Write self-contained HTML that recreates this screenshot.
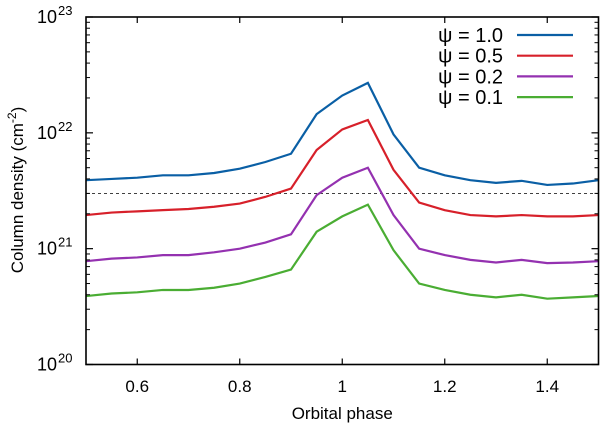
<!DOCTYPE html>
<html><head><meta charset="utf-8"><style>
body{margin:0;background:#fff;}
svg{display:block;font-family:"Liberation Sans",Arial,sans-serif;}
</style></head><body>
<svg id="chart" width="600" height="429" viewBox="0 0 600 429" xmlns="http://www.w3.org/2000/svg"></svg>
<script>
const phases=[0.5,0.55,0.6,0.65,0.7,0.75,0.8,0.85,0.9,0.95,1.0,1.05,1.1,1.15,1.2,1.25,1.3,1.35,1.4,1.45,1.5];
const psi10=[3.9,4.0,4.1,4.3,4.3,4.5,4.9,5.6,6.6,14.5,21,27,9.7,5.0,4.3,3.9,3.7,3.85,3.55,3.65,3.9];
const psi05=[1.95,2.05,2.1,2.15,2.2,2.3,2.45,2.8,3.3,7.1,10.7,12.9,4.8,2.5,2.15,1.95,1.9,1.95,1.9,1.9,1.95];
const psi02=[0.78,0.82,0.84,0.88,0.88,0.93,1.0,1.13,1.33,2.9,4.1,5.0,1.95,1.0,0.88,0.8,0.76,0.8,0.75,0.76,0.78];
const psi01=[0.39,0.41,0.42,0.44,0.44,0.46,0.5,0.57,0.66,1.4,1.9,2.4,0.97,0.5,0.44,0.4,0.38,0.4,0.37,0.38,0.39];
const seriesLabels=["ψ = 1.0","ψ = 0.5","ψ = 0.2","ψ = 0.1"];
const seriesColors=["#0a5fa5","#d7202a","#9431b0","#4aad33"];
const xTicks=[0.6,0.8,1,1.2,1.4];
const xTickLabels=["0.6","0.8","1","1.2","1.4"];
const yDecades=[20,21,22,23];
const dashLevel=3.0;
const L=86,R=598.5,T=17,B=364.5;
const sx=v=>L+(v-0.5)/1.0*(R-L);
const sy=v=>B-(Math.log10(v*1e21)-20)/3*(B-T);
const svg=document.getElementById('chart');
const NS='http://www.w3.org/2000/svg';
function mk(tag,attrs,parent){const e=document.createElementNS(NS,tag);for(const k in attrs)e.setAttribute(k,attrs[k]);(parent||svg).appendChild(e);return e;}
let d=mk('line',{x1:L,x2:R,y1:sy(dashLevel),y2:sy(dashLevel),stroke:'#000','stroke-width':0.8,'stroke-dasharray':'3,3'});


const allSeries=[psi10,psi05,psi02,psi01];
allSeries.forEach((s,i)=>{
  const p=mk('polyline',{points:s.map((v,j)=>sx(phases[j])+','+sy(v)).join(' '),fill:'none',stroke:seriesColors[i],'stroke-width':2.2,'stroke-linejoin':'miter'});
  
  
  const ly=35+i*20.7;
  const t=mk('text',{x:503,y:ly+7,'text-anchor':'end','font-size':20});
  t.textContent=seriesLabels[i];
  
  
  const ll=mk('line',{x1:517,x2:573,y1:ly,y2:ly,stroke:seriesColors[i],'stroke-width':2.2});
  
  
});
const f=mk('rect',{x:L,y:T,width:R-L,height:B-T,fill:'none',stroke:'#000','stroke-width':1.6});


xTicks.forEach((v,i)=>{
  mk('line',{x1:sx(v),x2:sx(v),y1:B,y2:B-6,stroke:'#000','stroke-width':1.2});
  mk('line',{x1:sx(v),x2:sx(v),y1:T,y2:T+6,stroke:'#000','stroke-width':1.2});
  const t=mk('text',{x:sx(v),y:392,'text-anchor':'middle','font-size':17});
  t.textContent=xTickLabels[i];
  
  
});
const ys=v=>B-(v-20)/3*(B-T);
yDecades.forEach((dec,i)=>{
  const y=ys(dec);
  mk('line',{x1:L,x2:L+7,y1:y,y2:y,stroke:'#000','stroke-width':1.2});
  mk('line',{x1:R,x2:R-7,y1:y,y2:y,stroke:'#000','stroke-width':1.2});
  const t=mk('text',{x:57,y:y+6,'text-anchor':'end','font-size':18});
  t.textContent='10';
  
  
  const s=mk('text',{x:58,y:y-2,'font-size':13});s.textContent=String(dec);
  if(i<yDecades.length-1){for(let m=2;m<=9;m++){const yy=ys(dec+Math.log10(m));
    mk('line',{x1:L,x2:L+4,y1:yy,y2:yy,stroke:'#000','stroke-width':1});
    mk('line',{x1:R,x2:R-4,y1:yy,y2:yy,stroke:'#000','stroke-width':1});}}
});
const xt=mk('text',{x:sx(1),y:419,'text-anchor':'middle','font-size':17});
xt.textContent='Orbital phase';


const yt=mk('text',{x:0,y:0,'text-anchor':'middle','font-size':17,transform:'translate(23,190) rotate(-90)'});
yt.textContent='Column density (cm';
const sup=mk('tspan',{dy:-7,'font-size':12},yt);sup.textContent='-2';
const cl=mk('tspan',{dy:7},yt);cl.textContent=')';


</script>
</body></html>
